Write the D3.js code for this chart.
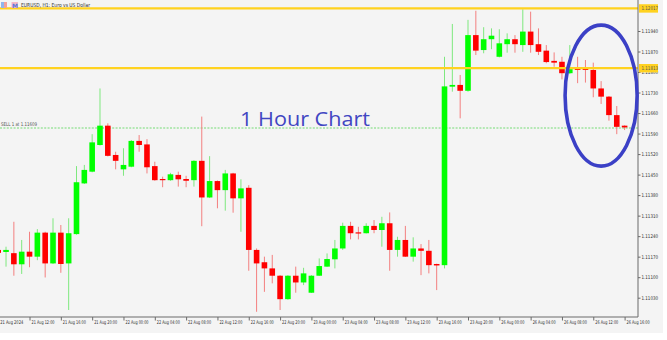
<!DOCTYPE html>
<html>
<head>
<meta charset="utf-8">
<script src="https://cdn.jsdelivr.net/npm/d3@7"></script>
<style>
  html, body { margin: 0; padding: 0; background: #ffffff; }
  svg { display: block; }
</style>
</head>
<body>
<div id="chart"></div>
<script>
// EURUSD H1 candles, 21 Aug 08:00 .. 26 Aug 16:00 (one entry per hour bar)
const openP = [
  1.11193, 1.11186, 1.11182, 1.11144, 1.11187, 1.11170, 1.11252, 1.11147, 1.11252, 1.11147,
  1.11247, 1.11420, 1.11460, 1.11551, 1.11617, 1.11517, 1.11468, 1.11477, 1.11565, 1.11553,
  1.11479, 1.11435, 1.11431, 1.11449, 1.11435, 1.11431, 1.11497, 1.11372, 1.11428, 1.11397,
  1.11454, 1.11369, 1.11405, 1.11193, 1.11151, 1.11130, 1.11105, 1.11025, 1.11105, 1.11082,
  1.11047, 1.11105, 1.11136, 1.11161, 1.11198, 1.11275, 1.11253, 1.11250, 1.11275, 1.11261,
  1.11284, 1.11193, 1.11227, 1.11170, 1.11198, 1.11190, 1.11145, 1.11141, 1.11750, 1.11756,
  1.11736, 1.11926, 1.11875, 1.11912, 1.11852, 1.11895, 1.11912, 1.11892, 1.11938, 1.11895,
  1.11873, 1.11838, 1.11835, 1.11796, 1.11813, 1.11813, 1.11807, 1.11744, 1.11716, 1.11653,
  1.11617
]
const highP = [
  1.11200, 1.11204, 1.11289, 1.11227, 1.11255, 1.11264, 1.11255, 1.11301, 1.11278, 1.11301,
  1.11479, 1.11483, 1.11588, 1.11744, 1.11625, 1.11528, 1.11540, 1.11568, 1.11585, 1.11571,
  1.11494, 1.11443, 1.11456, 1.11460, 1.11446, 1.11499, 1.11648, 1.11513, 1.11430, 1.11466,
  1.11456, 1.11434, 1.11414, 1.11198, 1.11170, 1.11176, 1.11107, 1.11107, 1.11136, 1.11132,
  1.11107, 1.11164, 1.11181, 1.11227, 1.11286, 1.11289, 1.11272, 1.11284, 1.11295, 1.11306,
  1.11321, 1.11238, 1.11275, 1.11236, 1.11213, 1.11227, 1.11146, 1.11852, 1.11964, 1.11790,
  1.11978, 1.12009, 1.11953, 1.11949, 1.11946, 1.11932, 1.11926, 1.12014, 1.12006, 1.11949,
  1.11892, 1.11867, 1.11852, 1.11892, 1.11852, 1.11841, 1.11832, 1.11769, 1.11718, 1.11684,
  1.11618
]
const lowP = [
  1.11173, 1.11136, 1.11105, 1.11111, 1.11134, 1.11158, 1.11099, 1.11145, 1.11115, 1.10988,
  1.11245, 1.11418, 1.11458, 1.11549, 1.11512, 1.11468, 1.11446, 1.11475, 1.11528, 1.11454,
  1.11429, 1.11407, 1.11429, 1.11409, 1.11407, 1.11409, 1.11274, 1.11370, 1.11335, 1.11327,
  1.11320, 1.11255, 1.11122, 1.10982, 1.11050, 1.11079, 1.10988, 1.11023, 1.11047, 1.11073,
  1.11046, 1.11104, 1.11135, 1.11130, 1.11193, 1.11229, 1.11229, 1.11249, 1.11250, 1.11204,
  1.11122, 1.11170, 1.11169, 1.11153, 1.11107, 1.11113, 1.11056, 1.11130, 1.11733, 1.11642,
  1.11733, 1.11858, 1.11864, 1.11878, 1.11850, 1.11866, 1.11866, 1.11869, 1.11866, 1.11858,
  1.11830, 1.11818, 1.11775, 1.11793, 1.11762, 1.11764, 1.11714, 1.11691, 1.11634, 1.11588,
  1.11602
]
const closeP = [
  1.11183, 1.11193, 1.11144, 1.11187, 1.11170, 1.11252, 1.11147, 1.11252, 1.11145, 1.11250,
  1.11424, 1.11466, 1.11560, 1.11617, 1.11514, 1.11497, 1.11483, 1.11565, 1.11551, 1.11475,
  1.11431, 1.11431, 1.11451, 1.11434, 1.11429, 1.11497, 1.11372, 1.11428, 1.11397, 1.11454,
  1.11369, 1.11403, 1.11193, 1.11147, 1.11130, 1.11105, 1.11025, 1.11105, 1.11082, 1.11113,
  1.11105, 1.11138, 1.11162, 1.11198, 1.11275, 1.11250, 1.11250, 1.11275, 1.11261, 1.11284,
  1.11193, 1.11227, 1.11170, 1.11198, 1.11190, 1.11141, 1.11140, 1.11751, 1.11756, 1.11736,
  1.11926, 1.11873, 1.11912, 1.11924, 1.11898, 1.11912, 1.11895, 1.11938, 1.11892, 1.11869,
  1.11834, 1.11832, 1.11796, 1.11810, 1.11807, 1.11807, 1.11744, 1.11716, 1.11653, 1.11613,
  1.11611
]

// time axis: bar index of each label
const timeTickIndex = [0, 4, 8, 12, 16, 20, 24, 28, 32, 36, 40, 44, 48, 52, 56, 60, 64, 68, 72, 76, 80]
const timeTickLabels = [
  "21 Aug 2024", "21 Aug 12:00", "21 Aug 16:00", "21 Aug 20:00", "22 Aug 00:00",
  "22 Aug 04:00", "22 Aug 08:00", "22 Aug 12:00", "22 Aug 16:00", "22 Aug 20:00",
  "23 Aug 00:00", "23 Aug 04:00", "23 Aug 08:00", "23 Aug 12:00", "23 Aug 16:00",
  "23 Aug 20:00", "26 Aug 00:00", "26 Aug 04:00", "26 Aug 08:00", "26 Aug 12:00",
  "26 Aug 16:00"
]
const priceTicks = [
  1.11940, 1.11870, 1.11800, 1.11730, 1.11660, 1.11590, 1.11520,
  1.11450, 1.11380, 1.11310, 1.11240, 1.11170, 1.11100, 1.11030
]
const levelLines = [1.12017, 1.11813]   // yellow horizontal levels
const sellPrice = 1.11609
const sellLabel = "SELL 1 at 1.11609"
const symbolTitle = "EURUSD, H1: Euro vs US Dollar"
const chartNote = "1 Hour Chart"
// annotation ellipse around the last bars (bar index / price bounds)
const ellipseBars = [72.4, 81.6]
const ellipsePrices = [1.11960, 1.11479]

const W = 667, H = 340
const plotRight = 638, plotBottom = 317
const UP = "#00ff00", DOWN = "#ff0000"
const UP_WICK = "#7ee87e", DOWN_WICK = "#f37f7f"
const AXIS_FONT = "'DejaVu Sans', sans-serif"

const candles = openP.map((o, i) => ({ i, o, h: highP[i], l: lowP[i], c: closeP[i] }))

const svg = d3.select("#chart").append("svg")
  .attr("width", W).attr("height", H)
  .attr("viewBox", `0 0 ${W} ${H}`)

svg.append("rect").attr("x", 0).attr("y", 0)
  .attr("width", 663).attr("height", 333).attr("fill", "#f4f4f4")

const x = d3.scaleLinear().domain([0, 80]).range([-1.8, 624.6])
const y = d3.scaleLinear().domain([1.11030, 1.11940]).range([297.7, 31])

const plot = svg.append("g")

// sell order line
plot.append("line")
  .attr("x1", 0).attr("x2", plotRight)
  .attr("y1", y(sellPrice)).attr("y2", y(sellPrice))
  .attr("stroke", "#9fe39f").attr("stroke-width", 1.4)
  .attr("stroke-dasharray", "2,1.4")

plot.append("text")
  .attr("x", 1).attr("y", y(sellPrice) - 2.5)
  .attr("font-family", AXIS_FONT).attr("font-size", "5px")
  .attr("fill", "#555")
  .attr("textLength", 36).attr("lengthAdjust", "spacingAndGlyphs")
  .text(sellLabel)

// wicks
plot.selectAll("line.wick")
  .data(candles)
  .enter()
  .append("line")
  .attr("class", "wick")
  .attr("x1", d => x(d.i)).attr("x2", d => x(d.i))
  .attr("y1", d => y(d.h)).attr("y2", d => y(d.l))
  .attr("stroke", d => d.c >= d.o ? UP_WICK : DOWN_WICK)
  .attr("stroke-width", 1)

// bodies
const bodyW = 5.6
plot.selectAll("rect.body")
  .data(candles)
  .enter()
  .append("rect")
  .attr("class", "body")
  .attr("x", d => x(d.i) - bodyW / 2)
  .attr("width", bodyW)
  .attr("y", d => y(Math.max(d.o, d.c)))
  .attr("height", d => Math.max(1.2, Math.abs(y(d.o) - y(d.c))))
  .attr("fill", d => d.c >= d.o ? UP : DOWN)

// yellow levels
plot.selectAll("line.level")
  .data(levelLines)
  .enter()
  .append("line")
  .attr("class", "level")
  .attr("x1", 0).attr("x2", plotRight)
  .attr("y1", d => y(d)).attr("y2", d => y(d))
  .attr("stroke", "#ffd21f").attr("stroke-width", 2.2)

// title row with icons
svg.append("rect").attr("x", 1).attr("y", 2).attr("width", 6).attr("height", 6)
  .attr("fill", "#f3a19a")
svg.append("rect").attr("x", 1).attr("y", 2).attr("width", 3).attr("height", 6)
  .attr("fill", "#8fb6ee")
svg.append("rect").attr("x", 11.5).attr("y", 2).attr("width", 6.5).attr("height", 6)
  .attr("fill", "#f5b7c6")
svg.append("text").attr("x", 12).attr("y", 7.6)
  .attr("font-family", AXIS_FONT).attr("font-size", "6px").attr("font-weight", "bold")
  .attr("fill", "#5a78d8").text("M")
svg.append("text")
  .attr("x", 21).attr("y", 7)
  .attr("font-family", AXIS_FONT).attr("font-size", "5.5px")
  .attr("fill", "#333")
  .attr("textLength", 69).attr("lengthAdjust", "spacingAndGlyphs")
  .text(symbolTitle)

// big blue note
svg.append("text")
  .attr("x", 240).attr("y", 125.5)
  .attr("font-family", "'Open Sans', 'Noto Sans', sans-serif")
  .attr("font-size", "20.5px")
  .attr("fill", "#4146c2")
  .attr("textLength", 130).attr("lengthAdjust", "spacingAndGlyphs")
  .text(chartNote)

// frame lines
svg.append("line").attr("x1", plotRight).attr("x2", plotRight)
  .attr("y1", 0).attr("y2", plotBottom)
  .attr("stroke", "#6a6a6a").attr("stroke-width", 1)
svg.append("line").attr("x1", 0).attr("x2", plotRight)
  .attr("y1", plotBottom).attr("y2", plotBottom)
  .attr("stroke", "#6a6a6a").attr("stroke-width", 1)

// price axis
const yAxis = d3.axisRight(y)
  .tickValues(priceTicks)
  .tickSize(2.5)
  .tickFormat(d3.format(".5f"))

const yg = svg.append("g")
  .attr("transform", `translate(${plotRight},0)`)
  .call(yAxis)
yg.select(".domain").remove()
yg.selectAll(".tick line").attr("stroke", "#6a6a6a")
yg.selectAll("text")
  .attr("x", 3.5)
  .attr("font-family", AXIS_FONT).attr("font-size", "5px")
  .attr("fill", "#333")
  .attr("textLength", 16.5).attr("lengthAdjust", "spacingAndGlyphs")

// highlighted level labels
const lvl = svg.selectAll("g.lvl")
  .data(levelLines)
  .enter()
  .append("g")
  .attr("class", "lvl")
  .attr("transform", d => `translate(${plotRight + 1},${y(d)})`)
lvl.append("rect")
  .attr("x", 0).attr("y", -4.2).attr("width", 19).attr("height", 8.4)
  .attr("fill", "#ffd21f")
lvl.append("text")
  .attr("x", 2.5).attr("y", 1.8)
  .attr("font-family", AXIS_FONT).attr("font-size", "5px")
  .attr("fill", "#555")
  .attr("textLength", 16.5).attr("lengthAdjust", "spacingAndGlyphs")
  .text(d => d3.format(".5f")(d))

// time axis
const xAxis = d3.axisBottom(x)
  .tickValues(timeTickIndex)
  .tickSize(3.5)
  .tickFormat((d, i) => timeTickLabels[i])

const xg = svg.append("g")
  .attr("transform", `translate(0,${plotBottom})`)
  .call(xAxis)
xg.select(".domain").remove()
xg.selectAll(".tick line").attr("stroke", "#6a6a6a")
xg.selectAll("text")
  .attr("text-anchor", "start")
  .attr("x", 1.5).attr("y", 5).attr("dy", "0.35em")
  .attr("font-family", AXIS_FONT).attr("font-size", "5px")
  .attr("fill", "#333")
  .attr("textLength", 23).attr("lengthAdjust", "spacingAndGlyphs")

// annotation ellipse
const ex0 = x(ellipseBars[0]), ex1 = x(ellipseBars[1])
const ey0 = y(ellipsePrices[0]), ey1 = y(ellipsePrices[1])
svg.append("ellipse")
  .attr("cx", (ex0 + ex1) / 2).attr("cy", (ey0 + ey1) / 2)
  .attr("rx", (ex1 - ex0) / 2).attr("ry", (ey1 - ey0) / 2)
  .attr("fill", "none")
  .attr("stroke", "#3b40c6").attr("stroke-width", 3.6)
</script>
</body>
</html>
